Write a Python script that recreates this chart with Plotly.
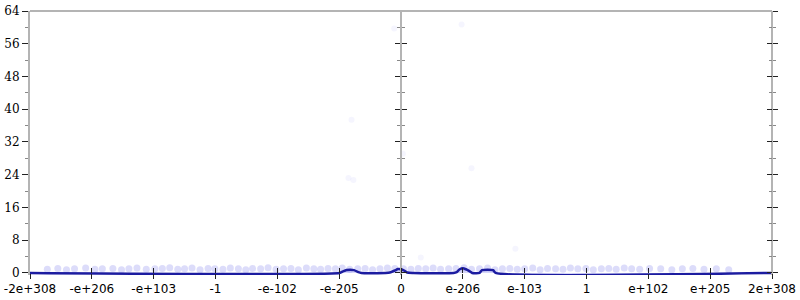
import plotly.graph_objects as go

# tick positions (index on the symmetric log-like scale) and labels
tick_pos = [-6, -5, -4, -3, -2, -1, 0, 1, 2, 3, 4, 5, 6]
tick_labels = ["-2e+308", "-e+206", "-e+103", "-1", "-e-102", "-e-205", "0",
               "e-206", "e-103", "1", "e+102", "e+205", "2e+308"]
y_ticks = [0, 8, 16, 24, 32, 40, 48, 56, 64]

# faint sample points (dense band near 1)
sample_x = [-5.72, -5.55, -5.41, -5.28, -5.10, -4.95, -4.83, -4.66, -4.52, -4.40,
            -4.27, -4.12, -3.98, -3.86, -3.74, -3.61, -3.50, -3.38, -3.25, -3.12,
            -3.01, -2.88, -2.76, -2.63, -2.51, -2.40, -2.27, -2.15, -2.02, -1.90,
            -1.78, -1.66, -1.53, -1.41, -1.30, -1.18, -1.06, -0.95, -0.83, -0.70,
            -0.58, -0.46, -0.34, -0.22, -0.10, 0.04, 0.16, 0.28, 0.40, 0.52,
            0.64, 0.77, 0.89, 1.02, 1.14, 1.27, 1.40, 1.52, 1.64, 1.76,
            1.88, 2.00, 2.13, 2.25, 2.37, 2.50, 2.62, 2.74, 2.86, 2.99,
            3.11, 3.24, 3.36, 3.48, 3.61, 3.73, 3.86, 4.02, 4.20, 4.38,
            4.55, 4.72, 4.90, 5.10, 5.30]
sample_y = [0.9, 1.1, 0.8, 1.0, 1.2, 0.9, 1.0, 1.1, 0.8, 1.0,
            1.2, 0.9, 1.0, 1.1, 1.3, 0.9, 1.0, 1.2, 0.8, 1.1,
            1.0, 0.9, 1.2, 1.0, 0.8, 1.1, 1.0, 1.3, 0.9, 1.0,
            1.1, 0.8, 1.2, 1.0, 0.9, 1.1, 1.0, 1.2, 0.9, 1.0,
            1.1, 0.8, 1.0, 1.2, 1.1, 1.0, 0.9, 1.1, 1.0, 1.2,
            0.9, 1.0, 1.1, 1.3, 0.9, 1.0, 1.2, 0.8, 1.0, 1.1,
            0.9, 1.0, 1.2, 0.8, 1.1, 1.0, 0.9, 1.2, 1.0, 1.1,
            0.8, 1.0, 1.1, 0.9, 1.2, 1.0, 0.9, 1.1, 1.0, 0.8,
            1.0, 1.1, 0.9, 1.0, 0.8]
# isolated faint outliers
outlier_x = [-0.85, -0.77, 0.03, 1.14, -0.11, 0.32, 1.85, -0.80, 0.98]
outlier_y = [23.2, 22.7, 29.1, 25.6, 59.7, 3.8, 5.9, 37.4, 60.7]

# density line
line_x = [-6, -1.0, -0.95, -0.88, -0.82, -0.76, -0.69, -0.64, -0.25, -0.18, -0.1,
          -0.05, 0.0, 0.05, 0.1, 0.2, 0.85, 0.9, 0.95, 1.0, 1.05, 1.1, 1.15,
          1.27, 1.31, 1.49, 1.53, 6]
line_y = [0, 0, 0.3, 0.7, 0.8, 0.7, 0.2, 0, 0, 0.1, 0.6,
          0.95, 0.9, 0.6, 0.1, 0, 0, 0.2, 0.9, 1.15, 0.9, 0.5, 0,
          0, 0.7, 0.7, 0, 0]

fig = go.Figure()
fig.add_trace(go.Scatter(x=sample_x, y=sample_y, mode="markers",
                         marker=dict(size=7, color="rgba(80,80,230,0.2)", line=dict(width=0)),
                         hoverinfo="skip", showlegend=False))
fig.add_trace(go.Scatter(x=outlier_x, y=outlier_y, mode="markers",
                         marker=dict(size=6, color="rgba(80,80,230,0.06)", line=dict(width=0)),
                         hoverinfo="skip", showlegend=False))
fig.add_trace(go.Scatter(x=line_x, y=line_y, mode="lines",
                         line=dict(color="#1c1ca0", width=2.5, shape="spline", smoothing=0.6),
                         fill="tozeroy", fillcolor="rgba(90,90,230,0.25)",
                         hoverinfo="skip", showlegend=False))

# invisible traces to keep the extra axes drawn
for ya in ["y2", "y3", "y4", "y5"]:
    fig.add_trace(go.Scatter(x=[None], y=[None], yaxis=ya, xaxis="x",
                             showlegend=False, hoverinfo="skip"))
fig.add_trace(go.Scatter(x=[None], y=[None], xaxis="x2", yaxis="y",
                         showlegend=False, hoverinfo="skip"))

font = dict(family="DejaVu Sans", size=12, color="black")
yfont = dict(family="DejaVu Serif", size=12, color="black")
yr = [-0.5, 64]
common_y = dict(range=yr, tickvals=y_ticks, showgrid=False, zeroline=False,
                tickcolor="#222", tickwidth=1)
minor = dict(dtick=4, tick0=0, ticks="outside", ticklen=3, tickcolor="#888")

fig.update_layout(
    width=800, height=300,
    margin=dict(l=28, r=26, t=4, b=24),
    paper_bgcolor="white", plot_bgcolor="white",
    font=font,
    xaxis=dict(range=[-6, 6], tickvals=tick_pos, ticktext=tick_labels,
               showgrid=False, zeroline=False, showline=False,
               ticks="outside", ticklen=5, tickcolor="#222", tickwidth=1,
               anchor="free", position=2 / 272, tickfont=font,
               ticklabeloverflow="allow"),
    xaxis2=dict(range=[-6, 6], tickvals=tick_pos, showticklabels=False,
                overlaying="x", showgrid=False, zeroline=False, showline=False,
                ticks="inside", ticklen=5, tickcolor="#222", tickwidth=1,
                anchor="free", position=2 / 272),
    yaxis=dict(**common_y, showline=True, linecolor="#b4b4b4", linewidth=2,
               ticks="outside", ticklen=6, tickfont=yfont, ticklabeloverflow="allow",
               minor=minor),
    yaxis2=dict(**common_y, overlaying="y", anchor="free", position=0.5, side="left",
                showline=True, linecolor="#b4b4b4", linewidth=2,
                ticks="outside", ticklen=5, showticklabels=False, minor=minor),
    yaxis3=dict(**common_y, overlaying="y", anchor="free", position=0.5, side="right",
                showline=False, ticks="outside", ticklen=5, showticklabels=False,
                minor=minor),
    yaxis4=dict(**common_y, overlaying="y", anchor="free", position=1.0, side="right",
                showline=True, linecolor="#b4b4b4", linewidth=2,
                ticks="outside", ticklen=5, showticklabels=False, minor=minor),
    yaxis5=dict(**common_y, overlaying="y", anchor="free", position=1.0, side="left",
                showline=False, ticks="outside", ticklen=5, showticklabels=False,
                minor=minor),
    shapes=[dict(type="line", xref="paper", yref="paper", x0=0, x1=1, y0=1, y1=1,
                 line=dict(color="#b4b4b4", width=2))],
)

fig.write_html("out.html")
